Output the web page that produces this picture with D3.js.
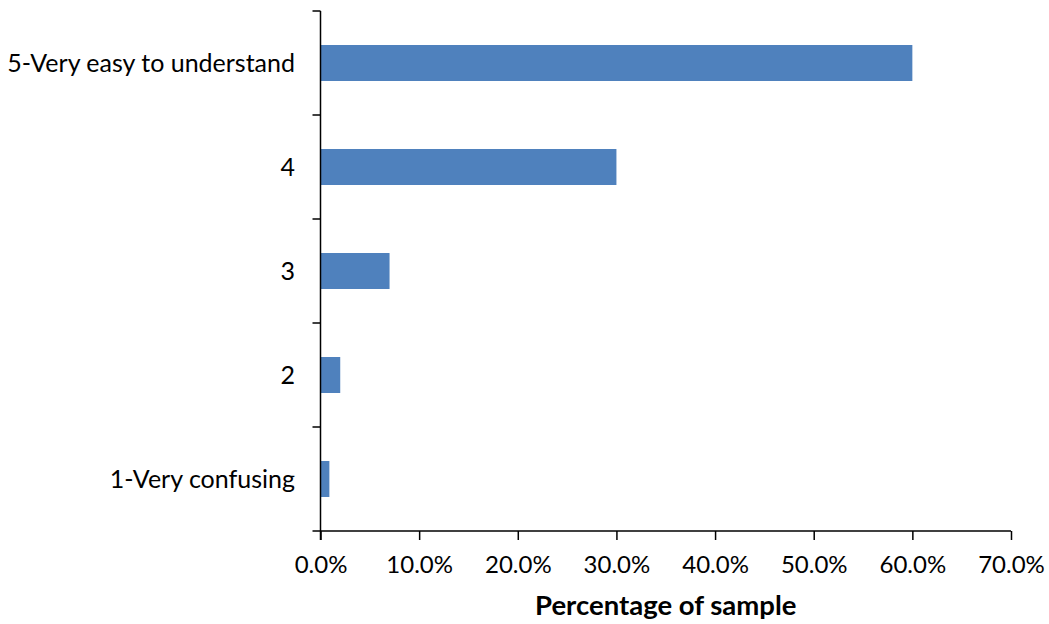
<!DOCTYPE html>
<html>
<head>
<meta charset="utf-8">
<script src="https://cdn.jsdelivr.net/npm/d3@7"></script>
<style>
  body { margin: 0; background: #fff; }
  svg text { font-family: Lato, "Open Sans", sans-serif; fill: #000; }
</style>
</head>
<body>
<svg id="chart" width="1049" height="624"></svg>
<script>
// Survey responses: how easy the material was to understand
const categories = ["5-Very easy to understand", "4", "3", "2", "1-Very confusing"];
const shares = [60.0, 30.0, 7.0, 2.0, 0.9];
const xTickValues = [0, 10, 20, 30, 40, 50, 60, 70];
const xTitle = "Percentage of sample";

(function () {
  const svg = d3.select("#chart");
  const plotLeft = 320.5, plotRight = 1011, plotTop = 11, plotBottom = 531;

  const x = d3.scaleLinear().domain([0, 70]).range([plotLeft, plotRight]);
  const y = d3.scaleBand().domain(categories).range([plotTop, plotBottom])
    .paddingInner(0.654).paddingOuter(0.327);

  // Bars
  svg.append("g").selectAll("rect")
    .data(categories)
    .join("rect")
    .attr("x", x(0))
    .attr("y", d => y(d))
    .attr("width", (d, i) => x(shares[i]) - x(0))
    .attr("height", y.bandwidth())
    .attr("fill", "#4F81BD");

  // Category axis: boundary ticks between bands
  const yAxis = svg.append("g");
  yAxis.append("line")
    .attr("x1", plotLeft).attr("x2", plotLeft).attr("y1", plotTop).attr("y2", plotBottom + 9)
    .attr("stroke", "#000").attr("stroke-width", 1.5);
  const step = (plotBottom - plotTop) / categories.length;
  yAxis.selectAll("line.tick")
    .data(d3.range(categories.length + 1))
    .join("line")
    .attr("class", "tick")
    .attr("x1", plotLeft - 8).attr("x2", plotLeft)
    .attr("y1", i => plotTop + i * step).attr("y2", i => plotTop + i * step)
    .attr("stroke", "#000").attr("stroke-width", 1.5);
  yAxis.selectAll("text")
    .data(categories)
    .join("text")
    .attr("x", 295)
    .attr("y", d => y(d) + y.bandwidth() / 2)
    .attr("dy", "0.35em")
    .attr("text-anchor", "end")
    .attr("font-size", 25)
    .text(d => d);

  // Value axis
  const xAxis = svg.append("g")
    .attr("transform", `translate(0,${plotBottom})`)
    .call(d3.axisBottom(x).tickValues(xTickValues).tickSize(9).tickPadding(16)
      .tickFormat(d => d.toFixed(1) + "%"));
  xAxis.select(".domain").attr("stroke", "#000").attr("stroke-width", 1.5)
    .attr("d", `M${plotLeft},0H${plotRight}`);
  xAxis.selectAll(".tick line").attr("stroke", "#000").attr("stroke-width", 1.5);
  xAxis.selectAll(".tick text").attr("font-size", 24).attr("font-family", "Lato, 'Open Sans', sans-serif");

  svg.append("text")
    .attr("x", (plotLeft + plotRight) / 2)
    .attr("y", 615)
    .attr("text-anchor", "middle")
    .attr("font-size", 27.5)
    .attr("font-weight", "bold")
    .text(xTitle);
})();
</script>
</body>
</html>
